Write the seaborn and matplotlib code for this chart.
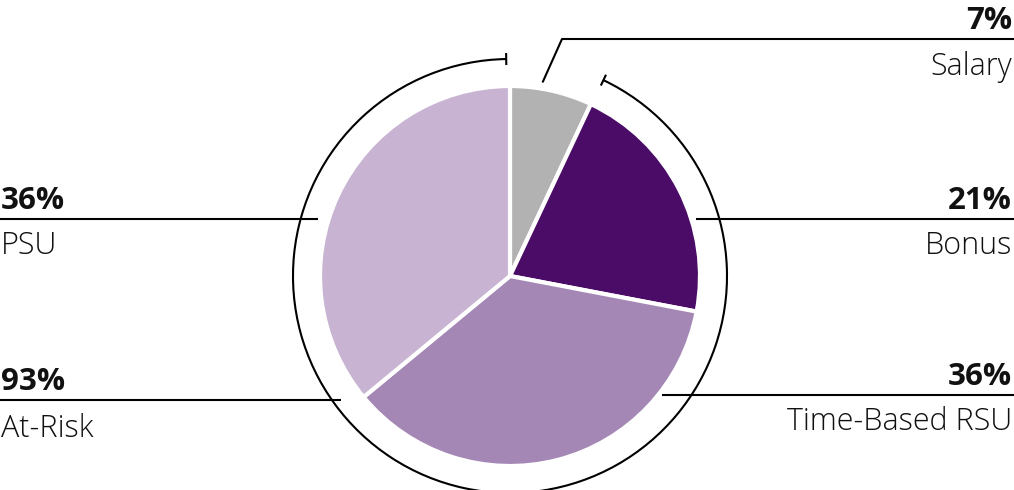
import numpy as np
import matplotlib
matplotlib.use("Agg")
import matplotlib.pyplot as plt
from matplotlib.patches import Arc
import seaborn as sns

# ---- data ----
categories = ["Salary", "Bonus", "Time-Based RSU", "PSU"]
values = [7, 21, 36, 36]
pct_labels = ["7%", "21%", "36%", "36%"]
at_risk_label = "At-Risk"
at_risk_pct = "93%"
colors = ["#b2b2b2", "#4a0c66", "#a487b5", "#c8b4d2"]

sns.set_theme(style="white")
plt.rcParams["font.family"] = ["Open Sans", "DejaVu Sans"]

W, H = 1014, 490
fig = plt.figure(figsize=(W / 100, H / 100), dpi=100)
ax = fig.add_axes([0, 0, 1, 1])

cx, cy = 510, H - 276
r_pie = 190
r_arc = 217

ax.pie(values, colors=colors, startangle=90, counterclock=False,
       center=(cx, cy), radius=r_pie,
       wedgeprops=dict(edgecolor="white", linewidth=3))

# at-risk arc (everything except salary)
total = sum(values)
start_clock = values[0] / total * 360 + 0.3
end_clock = 360 - 1.0
theta1 = 90 - end_clock
theta2 = 90 - start_clock
ax.add_patch(Arc((cx, cy), 2 * r_arc, 2 * r_arc, theta1=theta1, theta2=theta2,
                 color="black", lw=1.5))
for c in (start_clock, end_clock):
    a = np.deg2rad(c)
    xs = [cx + (r_arc - 6) * np.sin(a), cx + (r_arc + 6) * np.sin(a)]
    ys = [cy + (r_arc - 6) * np.cos(a), cy + (r_arc + 6) * np.cos(a)]
    ax.plot(xs, ys, color="black", lw=1.5, solid_capstyle="butt")

fs_pct = 22.5
fs_name = 22
lw = 1.5
txt_color = "#111111"


def texts(y_line, pct, name, side, name_off=35):
    yl = H - y_line
    if side == "right":
        xt, ha = W - 2, "right"
    else:
        xt, ha = 1, "left"
    ax.text(xt, yl + 10, pct, ha=ha, va="baseline", fontsize=fs_pct,
            fontweight="bold", color=txt_color)
    ax.text(xt, yl - name_off, name, ha=ha, va="baseline", fontsize=fs_name,
            fontweight="light", color=txt_color)


def label(y_line, x0, x1, pct, name, side, name_off=35):
    yl = H - y_line
    ax.plot([x0, x1], [yl, yl], color="black", lw=lw, solid_capstyle="butt")
    texts(y_line, pct, name, side, name_off)


def pie_x(y_line, r, sign):
    dy = (H - y_line) - cy
    return cx + sign * np.sqrt(max(r * r - dy * dy, 0))


# Salary: leader with elbow
sal_y = 39
a = np.deg2rad(9.6)
px, py = cx + 197 * np.sin(a), cy + 197 * np.cos(a)
ax.plot([px, 562, W], [py, H - sal_y, H - sal_y], color="black", lw=lw)
texts(sal_y, pct_labels[0], categories[0], "right", 36)

label(219, pie_x(219, r_pie + 5, 1), W, pct_labels[1], categories[1], "right")
label(395, pie_x(395, r_pie + 3, 1), W, pct_labels[2], categories[2], "right")
label(219, 0, pie_x(219, r_pie + 10, -1), pct_labels[3], categories[3], "left")
label(400, 0, pie_x(400, r_arc - 7, -1), at_risk_pct, at_risk_label, "left", 37)

ax.set_xlim(0, W)
ax.set_ylim(0, H)
ax.set_aspect("equal")
ax.axis("off")
fig.savefig("out.png", dpi=100)
